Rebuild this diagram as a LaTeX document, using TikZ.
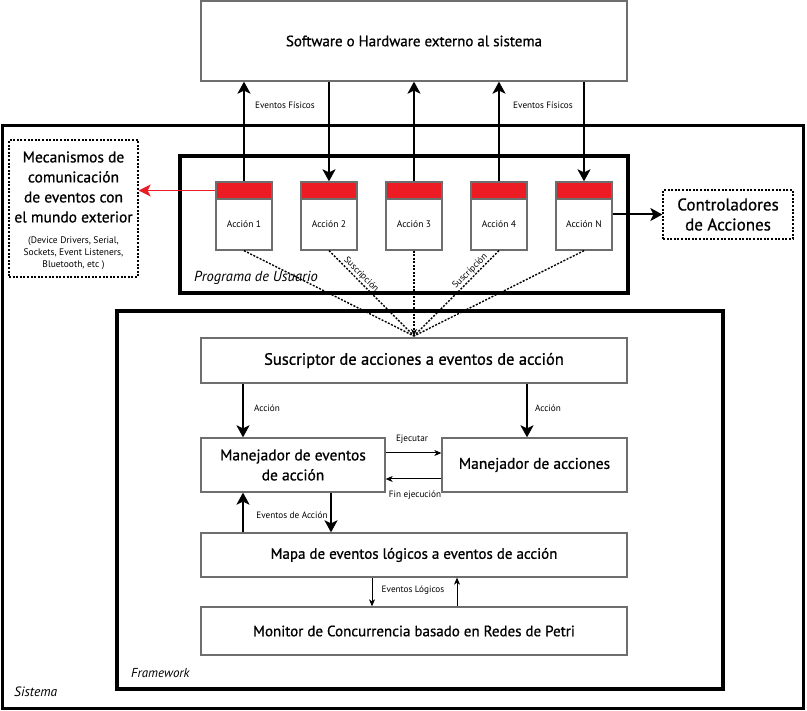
\documentclass[tikz,border=0pt]{standalone}
\usepackage{fontspec}
\setmainfont{PT Sans}
\newfontfamily\semib{PT Sans}[FakeBold=0.8]
\usetikzlibrary{arrows.meta}
\definecolor{boxgray}{HTML}{6E6E6E}
\definecolor{hdrred}{HTML}{ED1C24}
\begin{document}
\begin{tikzpicture}[x=1pt,y=-1pt,
  box/.style={draw=boxgray, line width=1.3pt, fill=white, inner sep=0pt, align=center},
  dotbox/.style={draw=black, line width=1.3pt, dash pattern=on 2pt off 1.6pt, inner sep=0pt, align=center},
  frame/.style={draw=black, inner sep=0pt},
  hdr/.style={draw=boxgray, line width=1.3pt, fill=hdrred, minimum width=56pt, minimum height=17pt, inner sep=0pt},
  body/.style={draw=boxgray, line width=1.3pt, fill=white, minimum width=56pt, minimum height=51pt, inner sep=0pt, font=\fontsize{9.5}{11}\selectfont},
  arr/.style={line width=2pt, -{Stealth[length=12pt,width=13pt,inset=3pt]}},
  thinarr/.style={line width=1pt, -{Stealth[length=7pt,width=6pt,inset=2pt]}},
  small/.style={font=\fontsize{9.2}{11}\selectfont, inner sep=1pt},
  ital/.style={font=\fontsize{13.5}{15}\selectfont\itshape, inner sep=0pt},
  dots/.style={line width=1.4pt, dash pattern=on 2pt off 1.5pt}
]
\useasboundingbox (0,0) rectangle (807,711);

% outer frames
\node[frame, line width=3pt, minimum width=801pt, minimum height=582pt] (sys) at (403,417) {};
\node[frame, line width=4.5pt, minimum width=448pt, minimum height=137pt] (prog) at (404,224.5) {};
\node[frame, line width=4.5pt, minimum width=606pt, minimum height=378pt] (fw) at (420,500) {};

\node[ital, anchor=west] (lsys) at (14,692) {Sistema};
\node[ital, font=\fontsize{13}{15}\selectfont\itshape, anchor=west] (lfw) at (131,673) {Framework};

% top box
\node[box, minimum width=426pt, minimum height=80pt, font=\semib\fontsize{15}{18}\selectfont] (ext) at (414,41) {Software o Hardware externo al sistema};

% acciones
\foreach \n/\x/\t in {1/244/Acción 1, 2/329/Acción 2, 3/414/Acción 3, 4/499/Acción 4, N/584/Acción N}{
  \node[hdr] (a\n h) at (\x,190.5) {};
  \node[body] (a\n) at (\x,224.5) {\t};
}

\node[ital, font=\fontsize{14.5}{16}\selectfont\itshape, anchor=west] (lprog) at (194,278) {Programa de Usuario};

% external arrows
\draw[arr] (a1h.north) -- (a1h.north |- ext.south);
\draw[arr] (a2h.north |- ext.south) -- (a2h.north);
\draw[arr] (a3h.north) -- (a3h.north |- ext.south);
\draw[arr] (a4h.north) -- (a4h.north |- ext.south);
\draw[arr] (aNh.north |- ext.south) -- (aNh.north);
\node[small] (ef1) at (285,105) {Eventos Físicos};
\node[small] (ef2) at (543,105) {Eventos Físicos};

% mecanismos
\node[dotbox, minimum width=129pt, minimum height=137pt] (mec) at (73.5,208.5) {};
\node[align=center, font=\semib\fontsize{15.5}{20}\selectfont, inner sep=0pt] (mect) at (73.5,187) {Mecanismos de\\comunicación\\de eventos con\\el mundo exterior};
\node[align=center, font=\fontsize{9.5}{12}\selectfont, inner sep=0pt] (mecs) at (73.5,253) {(Device Drivers, Serial,\\Sockets, Event Listeners,\\Bluetooth, etc )};
\draw[line width=1.5pt, draw=hdrred, -{Stealth[length=12pt,width=12pt,inset=3pt]}, hdrred] (a1h.west) -- (a1h.west -| mec.east);

% controladores
\node[dotbox, minimum width=130pt, minimum height=49pt, font=\semib\fontsize{17}{20}\selectfont] (ctl) at (728,214.5) {Controladores\\de Acciones};
\draw[arr] (aN.east |- ctl.west) -- (ctl.west);

% framework boxes
\node[box, minimum width=426pt, minimum height=45pt, font=\semib\fontsize{16.5}{19}\selectfont] (sus) at (414,360.5) {Suscriptor de acciones a eventos de acción};
\node[box, minimum width=184pt, minimum height=54pt, font=\semib\fontsize{15.5}{20}\selectfont] (mea) at (293,465) {Manejador de eventos\\de acción};
\node[box, minimum width=185pt, minimum height=54pt, font=\semib\fontsize{15.5}{19}\selectfont] (ma) at (534.5,465) {Manejador de acciones};
\node[box, minimum width=426pt, minimum height=44pt, font=\semib\fontsize{15}{18}\selectfont] (mapa) at (414,555) {Mapa de eventos lógicos a eventos de acción};
\node[box, minimum width=426pt, minimum height=48pt, font=\semib\fontsize{15}{18}\selectfont] (mon) at (414,631) {Monitor de Concurrencia basado en Redes de Petri};

% subscription dotted lines
\coordinate (conv) at (414,336);
\draw[dots] (a1.south) -- (conv);
\draw[dots] (a2.south) -- node[pos=0.33, above, sloped, small, font=\fontsize{9.2}{10}\selectfont] {Suscripción} (conv);
\draw[dots, -{Stealth[length=7pt,width=6pt,inset=2pt]}] (a3.south) -- (conv);
\draw[dots] (a4.south) -- node[pos=0.29, above, sloped, small, font=\fontsize{9.2}{10}\selectfont] {Suscripción} (conv);
\draw[dots] (aN.south) -- (conv);

% accion arrows
\draw[arr] ([xshift=-50pt]mea.north |- sus.south) -- ([xshift=-50pt]mea.north);
\draw[arr] ([xshift=-7.5pt]ma.north |- sus.south) -- ([xshift=-7.5pt]ma.north);
\node[small] (lacc1) at (267,408) {Acción};
\node[small] (lacc2) at (548,408) {Acción};

% ejecutar / fin
\draw[thinarr] ([yshift=12pt]mea.east) -- ([yshift=12pt]mea.east -| ma.west);
\draw[thinarr] ([yshift=-14pt]ma.west) -- ([yshift=-14pt]ma.west -| mea.east);
\node[small] (lej) at (412,439) {Ejecutar};
\node[small] (lfin) at (415,495) {Fin ejecución};

% eventos de accion
\draw[arr] ([xshift=-50pt]mea.south |- mapa.north) -- ([xshift=-50pt]mea.south);
\draw[arr] ([xshift=38pt]mea.south) -- ([xshift=38pt]mea.south |- mapa.north);
\node[small] (lea) at (292,515) {Eventos de Acción};

% eventos logicos
\draw[thinarr] ([xshift=-42pt]mapa.south) -- ([xshift=-42pt]mapa.south |- mon.north);
\draw[thinarr] ([xshift=43pt]mon.north) -- ([xshift=43pt]mon.north |- mapa.south);
\node[small] (lel) at (413,590) {Eventos Lógicos};
\end{tikzpicture}
\end{document}
